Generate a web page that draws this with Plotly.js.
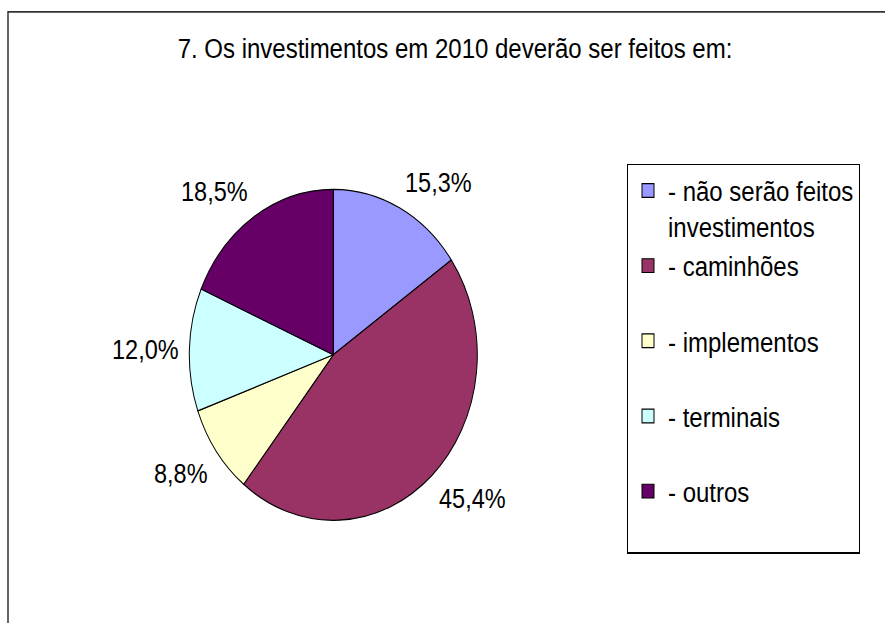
<!DOCTYPE html>
<html>
<head>
<meta charset="utf-8">
<script src="https://cdn.plot.ly/plotly-3.0.1.min.js"></script>
<style>
  html, body { margin: 0; padding: 0; background: #ffffff; }
  #wrap { width: 885px; height: 623px; overflow: hidden; position: relative; background: #ffffff; }
  #chart { width: 885px; height: 542px; transform: scaleY(1.1494); transform-origin: 0 0; position: absolute; left: 0; top: 0; }
</style>
</head>
<body>
<div id="wrap"><div id="chart"></div></div>
<script>
const categories = [
  "- não serão feitos<br>investimentos",
  "- caminhões",
  "- implementos",
  "- terminais",
  "- outros"
];
const values = [15.3, 45.4, 8.8, 12.0, 18.5];
const colors = ["#9999FF", "#993366", "#FFFFCC", "#CCFFFF", "#660066"];
const titleText = "7. Os investimentos em 2010 deverão ser feitos em:";

const FONT = "'Liberation Sans', Arial, sans-serif";
const W = 885, H = 542;

// legend entries: give every entry two lines so the spacing matches
const legendLabels = categories.map(c => c.indexOf("<br>") >= 0 ? c : c + "<br> ");
const pctText = values.map(v => v.toFixed(1).replace(".", ",") + "%");

const cx = 333.3, cy = 308.7, r = 144, gap = 9;

const trace = {
  type: "pie",
  labels: legendLabels,
  values: values,
  textinfo: "none",
  sort: false,
  direction: "clockwise",
  rotation: 0,
  marker: { colors: colors, line: { color: "#000000", width: 1 } },
  hoverinfo: "none",
  domain: { x: [(cx - r) / W, (cx + r) / W], y: [1 - (cy + r) / H, 1 - (cy - r) / H] }
};

// percentage labels placed just outside each slice, at the slice's mid angle
const total = values.reduce((a, b) => a + b, 0);
let cum = 0;
const annotations = values.map((v, i) => {
  const mid = (cum + v / 2) / total * 2 * Math.PI;
  cum += v;
  const dx = Math.sin(mid), dy = -Math.cos(mid);
  const px = cx + dx * (r + gap), py = cy + dy * (r + gap);
  return {
    xref: "paper", yref: "paper",
    x: px / W, y: 1 - py / H,
    text: pctText[i], showarrow: false,
    xanchor: dx > 0.3 ? "left" : (dx < -0.3 ? "right" : "center"),
    yanchor: dy < -0.3 ? "bottom" : (dy > 0.3 ? "top" : "middle"),
    font: { family: FONT, size: 23.5, color: "#000000" },
    borderpad: 0
  };
});

const layout = {
  width: W,
  height: H,
  margin: { l: 0, r: 0, t: 0, b: 0 },
  paper_bgcolor: "#ffffff",
  font: { family: FONT, color: "#000000" },
  title: {
    text: titleText,
    font: { family: FONT, size: 24, color: "#000000" },
    x: 455 / W, xanchor: "center", xref: "container",
    y: 1 - 41.7 / H, yanchor: "middle", yref: "container"
  },
  showlegend: true,
  legend: {
    x: 627 / W, xanchor: "left",
    y: 1 - 142.6 / H, yanchor: "top",
    bgcolor: "rgba(0,0,0,0)",
    bordercolor: "#000000", borderwidth: 1,
    font: { family: FONT, size: 24, color: "#000000" },
    valign: "top",
    traceorder: "normal"
  },
  annotations: annotations,
  shapes: [
    { type: "rect", xref: "paper", yref: "paper",
      x0: 8 / W, x1: 1.05, y0: -0.2, y1: 1 - 10.4 / H,
      line: { color: "#333333", width: 1.5 }, fillcolor: "rgba(0,0,0,0)" }
  ]
};

Plotly.newPlot("chart", [trace], layout, { displayModeBar: false, staticPlot: true });
</script>
</body>
</html>
